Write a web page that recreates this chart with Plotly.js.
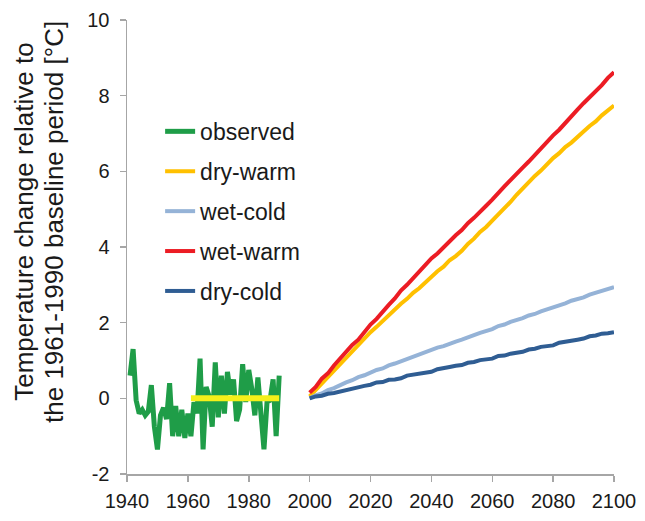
<!DOCTYPE html>
<html>
<head>
<meta charset="utf-8">
<script src="https://cdn.plot.ly/plotly-3.0.1.min.js"></script>
<style>
  html, body { margin: 0; padding: 0; background: #fff; }
  #chart { width: 645px; height: 521px; }
</style>
</head>
<body>
<div id="chart"></div>
<script>
// Observed annual temperature anomaly, 1941-1990
const obsYears = [1941,1942,1943,1944,1945,1946,1947,1948,1949,1950,
                  1951,1952,1953,1954,1955,1956,1957,1958,1959,1960,
                  1961,1962,1963,1964,1965,1966,1967,1968,1969,1970,
                  1971,1972,1973,1974,1975,1976,1977,1978,1979,1980,
                  1981,1982,1983,1984,1985,1986,1987,1988,1989,1990];
const observed = [0.60,1.30,-0.05,-0.40,-0.30,-0.45,-0.35,0.35,-0.75,-1.35,
                  -0.45,-0.25,-0.55,0.40,-1.00,-0.20,-1.00,-0.30,-1.05,-0.40,
                  -1.00,-0.10,-0.40,1.05,-1.35,0.30,0.05,-0.75,0.95,-0.50,
                  0.60,-0.40,0.70,0.10,0.50,-0.60,-0.30,0.90,-0.10,0.75,
                  0.25,-0.45,0.55,-0.30,-1.35,-0.10,-0.05,0.50,-1.00,0.60];

// Baseline period 1961-1990
const baseYears = [1961, 1990];
const baseline  = [0, 0];

// Scenario projections, 2000-2100
const projYears = [2000,2002,2004,2006,2008,2010,2012,2014,2016,2018,
                   2020,2022,2024,2026,2028,2030,2032,2034,2036,2038,
                   2040,2042,2044,2046,2048,2050,2052,2054,2056,2058,
                   2060,2062,2064,2066,2068,2070,2072,2074,2076,2078,
                   2080,2082,2084,2086,2088,2090,2092,2094,2096,2098,2100];
const dryWarm = [0.05,0.22,0.38,0.57,0.72,0.90,1.08,1.23,1.43,1.58,
                 1.75,1.89,2.05,2.18,2.35,2.50,2.63,2.79,2.91,3.07,
                 3.20,3.36,3.48,3.65,3.76,3.90,4.08,4.22,4.40,4.53,
                 4.70,4.86,5.04,5.19,5.38,5.55,5.70,5.88,6.02,6.20,
                 6.35,6.48,6.64,6.76,6.92,7.05,7.20,7.32,7.48,7.60,7.74];
const wetCold = [0.00,0.08,0.13,0.22,0.27,0.35,0.42,0.48,0.56,0.61,
                 0.68,0.75,0.79,0.87,0.92,0.98,1.05,1.09,1.17,1.21,
                 1.27,1.34,1.38,1.45,1.50,1.55,1.62,1.67,1.73,1.78,
                 1.83,1.91,1.95,2.02,2.06,2.12,2.19,2.23,2.30,2.35,
                 2.40,2.47,2.51,2.58,2.62,2.67,2.74,2.79,2.85,2.89,2.94];
const wetWarm = [0.15,0.30,0.52,0.66,0.87,1.05,1.20,1.41,1.55,1.77,
                 1.95,2.10,2.30,2.47,2.64,2.85,3.00,3.17,3.36,3.52,
                 3.70,3.83,4.00,4.14,4.31,4.45,4.63,4.77,4.95,5.09,
                 5.25,5.44,5.60,5.77,5.92,6.10,6.26,6.44,6.60,6.77,
                 6.95,7.10,7.29,7.44,7.63,7.80,7.95,8.13,8.28,8.47,8.62];
const dryCold = [0.00,0.05,0.07,0.12,0.14,0.18,0.23,0.25,0.31,0.33,
                 0.36,0.42,0.43,0.49,0.50,0.53,0.60,0.62,0.66,0.68,
                 0.70,0.77,0.79,0.83,0.86,0.88,0.94,0.96,1.01,1.02,
                 1.05,1.12,1.13,1.18,1.21,1.23,1.29,1.31,1.36,1.38,
                 1.40,1.47,1.49,1.53,1.55,1.58,1.64,1.66,1.71,1.72,1.75];

const xTicks = [1940,1960,1980,2000,2020,2040,2060,2080,2100];
const yTicks = [-2,0,2,4,6,8,10];
const yTickText = ['-2','0','2','4','6','8','10'];
const gridTicks = [0,2,4,6,8];

const FONT = 'Liberation Sans, Arial, sans-serif';

function series(name, x, y, color, width, group) {
  return {
    type: 'scatter', mode: 'lines', name: name, x: x, y: y,
    legendgroup: group,
    line: { color: color, width: width },
    hoverinfo: 'x+y+name'
  };
}

const traces = [
  series('observed', obsYears, observed, '#1f9d48', 5, 'g1'),
  Object.assign(series('baseline', baseYears, baseline, '#f5f01a', 6, 'g0'), { showlegend: false }),
  series('dry-warm', projYears, dryWarm, '#ffc000', 4, 'g2'),
  series('wet-cold', projYears, wetCold, '#95b3d7', 4, 'g3'),
  series('wet-warm', projYears, wetWarm, '#ec1c24', 4, 'g4'),
  series('dry-cold', projYears, dryCold, '#2f5d93', 4, 'g5')
];

const layout = {
  width: 645, height: 521,
  margin: { l: 127, r: 31, t: 20, b: 47, pad: 0 },
  paper_bgcolor: '#ffffff',
  plot_bgcolor: '#ffffff',
  font: { family: FONT, size: 20, color: '#1a1a1a' },
  showlegend: true,
  legend: {
    x: 0.068, y: 0.802, xanchor: 'left', yanchor: 'top',
    bgcolor: '#ffffff',
    font: { family: FONT, size: 23, color: '#1a1a1a' },
    traceorder: 'grouped',
    tracegroupgap: 7,
    itemwidth: 30
  },
  xaxis: {
    range: [1940, 2100],
    tickvals: xTicks,
    ticktext: xTicks.map(String),
    showgrid: false, zeroline: false,
    showline: true, linecolor: '#a6a6a6', linewidth: 1.5,
    ticks: 'outside', ticklen: 6, tickwidth: 1.5, tickcolor: '#a6a6a6',
    ticklabelstandoff: 2,
    tickfont: { size: 20 }
  },
  // upper halves of the x tick marks, so they cross the axis line
  xaxis2: {
    overlaying: 'x', anchor: 'y', side: 'bottom',
    range: [1940, 2100], tickvals: xTicks,
    showticklabels: false, showgrid: false, zeroline: false, showline: false,
    ticks: 'inside', ticklen: 4, tickwidth: 1.5, tickcolor: '#a6a6a6'
  },
  yaxis: {
    range: [-2, 10],
    tickvals: yTicks,
    ticktext: yTickText,
    showgrid: false, zeroline: false,
    showline: true, linecolor: '#a6a6a6', linewidth: 1.5,
    ticks: 'outside', ticklen: 6, tickwidth: 1.5, tickcolor: '#a6a6a6',
    ticklabelstandoff: 6,
    tickfont: { size: 20 }
  },
  // horizontal gridlines
  yaxis2: {
    overlaying: 'y', anchor: 'x', side: 'left',
    range: [-2, 10], tickvals: gridTicks,
    showticklabels: false, ticks: '', showline: false, zeroline: false,
    showgrid: true, gridcolor: '#a6a6a6', gridwidth: 1.5
  },
  annotations: [
    {
      text: 'Temperature change relative to',
      xref: 'paper', yref: 'paper', x: -0.212, y: 0.555,
      xanchor: 'center', yanchor: 'middle', textangle: -90, showarrow: false,
      font: { family: FONT, size: 26, color: '#1a1a1a' }
    },
    {
      text: 'the 1961-1990 baseline period [°C]',
      xref: 'paper', yref: 'paper', x: -0.150, y: 0.555,
      xanchor: 'center', yanchor: 'middle', textangle: -90, showarrow: false,
      font: { family: FONT, size: 26, color: '#1a1a1a' }
    }
  ]
};

Plotly.newPlot('chart', traces, layout, { displayModeBar: false, staticPlot: true });
</script>
</body>
</html>
